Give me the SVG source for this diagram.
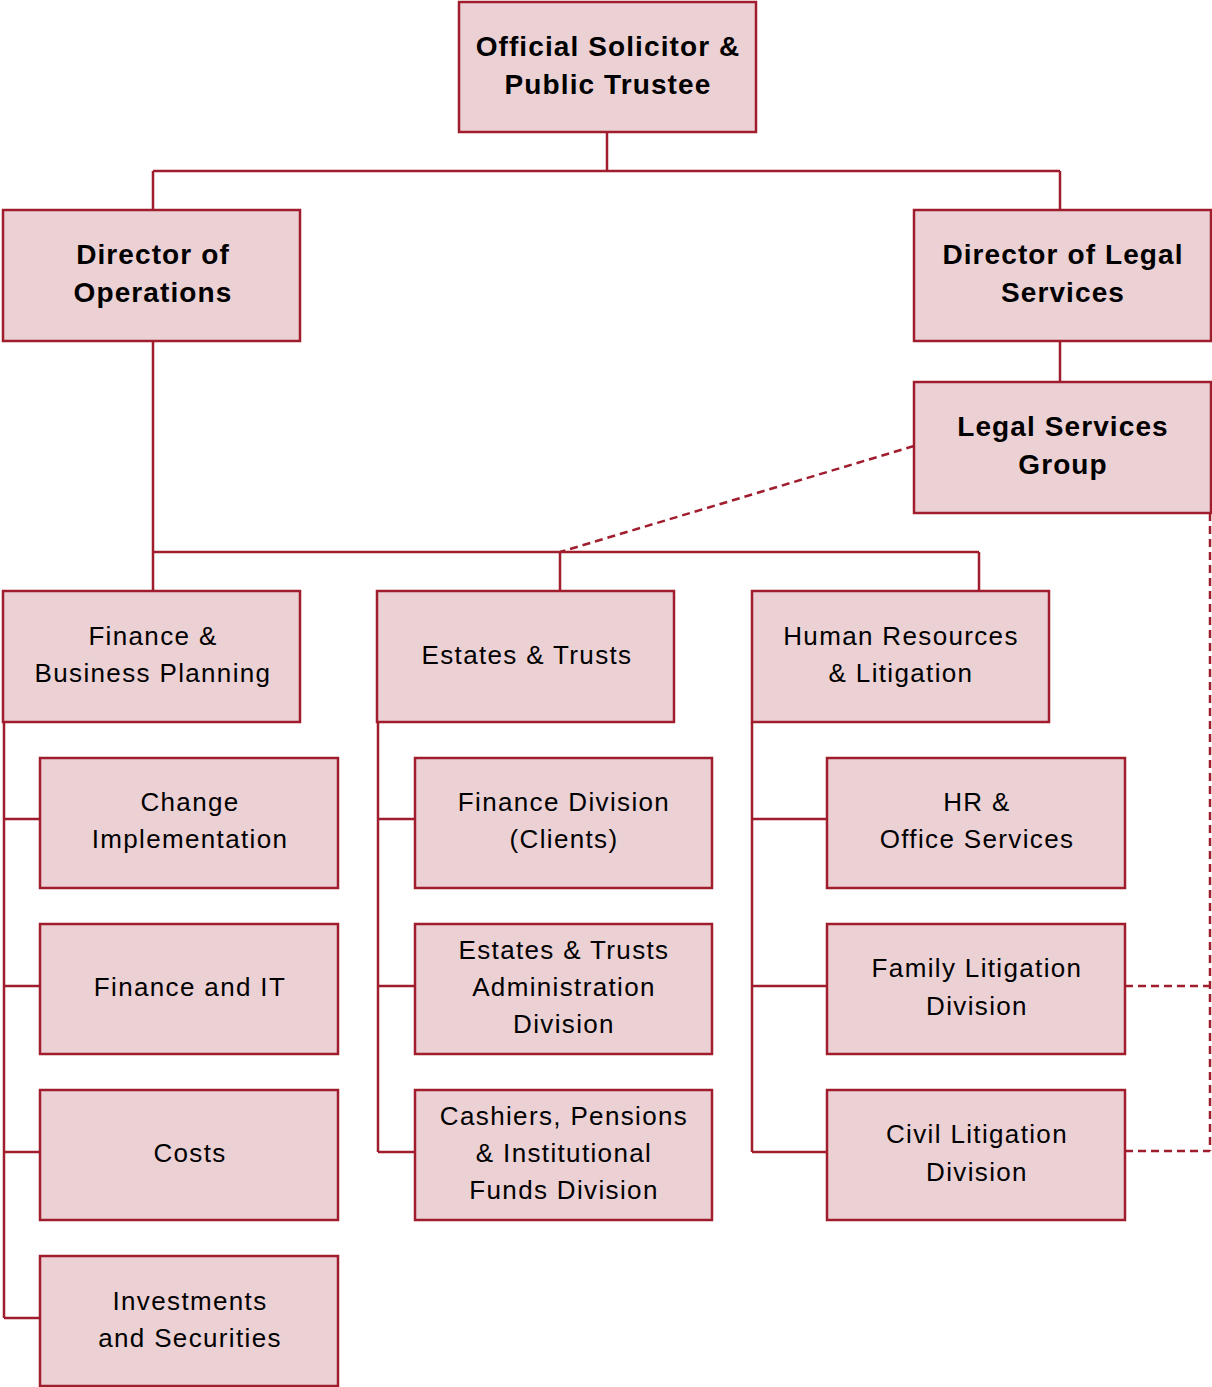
<svg xmlns="http://www.w3.org/2000/svg" width="1212" height="1387" viewBox="0 0 1212 1387">
<style>
.box{fill:#ebd0d4;stroke:#a01d2e;stroke-width:2.5}
.ln{fill:none;stroke:#a01d2e;stroke-width:2.5}
.dash{fill:none;stroke:#a01d2e;stroke-width:2.5;stroke-dasharray:8 5}
text{font-family:"Liberation Sans",Arial,sans-serif;fill:#000;text-anchor:middle}
.b{font-weight:bold;font-size:28px;letter-spacing:1.1px}
.r{font-size:26px;letter-spacing:1.35px}
</style>
<rect width="1212" height="1387" fill="#fff"/>
<g id="connectors">
<path class="ln" d="M607,132V171M153,171H1060M153,171V210M1060,171V210M1060,341V382"/>
<path class="ln" d="M153,341V591M153,552H979M560,552V591M979,552V591"/>
<path class="ln" d="M4,722V1318M4,819H40M4,986H40M4,1152H40M4,1318H40"/>
<path class="ln" d="M378,722V1152M378,819H415M378,986H415M378,1152H415"/>
<path class="ln" d="M752,722V1152M752,819H827M752,986H827M752,1152H827"/>
<path class="dash" d="M914,446L560,552"/>
<path class="dash" d="M1210,513V1151M1125,986H1210M1125,1151H1210"/>
</g>
<g id="n-top"><rect class="box" x="459" y="2" width="297" height="130"/><text class="b" x="608" y="56">Official Solicitor &amp;</text><text class="b" x="608" y="94">Public Trustee</text></g>
<g id="n-ops"><rect class="box" x="3" y="210" width="297" height="131"/><text class="b" x="153" y="264">Director of</text><text class="b" x="153" y="302">Operations</text></g>
<g id="n-dls"><rect class="box" x="914" y="210" width="297" height="131"/><text class="b" x="1063" y="264">Director of Legal</text><text class="b" x="1063" y="302">Services</text></g>
<g id="n-lsg"><rect class="box" x="914" y="382" width="297" height="131"/><text class="b" x="1063" y="436">Legal Services</text><text class="b" x="1063" y="474">Group</text></g>
<g id="n-fbp"><rect class="box" x="3" y="591" width="297" height="131"/><text class="r" x="153" y="645">Finance &amp;</text><text class="r" x="153" y="682">Business Planning</text></g>
<g id="n-et"><rect class="box" x="377" y="591" width="297" height="131"/><text class="r" x="527" y="664">Estates &amp; Trusts</text></g>
<g id="n-hrl"><rect class="box" x="752" y="591" width="297" height="131"/><text class="r" x="901" y="645">Human Resources</text><text class="r" x="901" y="682">&amp; Litigation</text></g>
<g id="n-ci"><rect class="box" x="40" y="758" width="298" height="130"/><text class="r" x="190" y="811">Change</text><text class="r" x="190" y="848">Implementation</text></g>
<g id="n-fit"><rect class="box" x="40" y="924" width="298" height="130"/><text class="r" x="190" y="996">Finance and IT</text></g>
<g id="n-costs"><rect class="box" x="40" y="1090" width="298" height="130"/><text class="r" x="190" y="1162">Costs</text></g>
<g id="n-inv"><rect class="box" x="40" y="1256" width="298" height="130"/><text class="r" x="190" y="1310">Investments</text><text class="r" x="190" y="1347">and Securities</text></g>
<g id="n-fdc"><rect class="box" x="415" y="758" width="297" height="130"/><text class="r" x="564" y="811">Finance Division</text><text class="r" x="564" y="848">(Clients)</text></g>
<g id="n-etad"><rect class="box" x="415" y="924" width="297" height="130"/><text class="r" x="564" y="959">Estates &amp; Trusts</text><text class="r" x="564" y="996">Administration</text><text class="r" x="564" y="1033">Division</text></g>
<g id="n-cpif"><rect class="box" x="415" y="1090" width="297" height="130"/><text class="r" x="564" y="1125">Cashiers, Pensions</text><text class="r" x="564" y="1162">&amp; Institutional</text><text class="r" x="564" y="1199">Funds Division</text></g>
<g id="n-hros"><rect class="box" x="827" y="758" width="298" height="130"/><text class="r" x="977" y="811">HR &amp;</text><text class="r" x="977" y="848">Office Services</text></g>
<g id="n-fld"><rect class="box" x="827" y="924" width="298" height="130"/><text class="r" x="977" y="977">Family Litigation</text><text class="r" x="977" y="1015">Division</text></g>
<g id="n-cld"><rect class="box" x="827" y="1090" width="298" height="130"/><text class="r" x="977" y="1143">Civil Litigation</text><text class="r" x="977" y="1181">Division</text></g>
</svg>
